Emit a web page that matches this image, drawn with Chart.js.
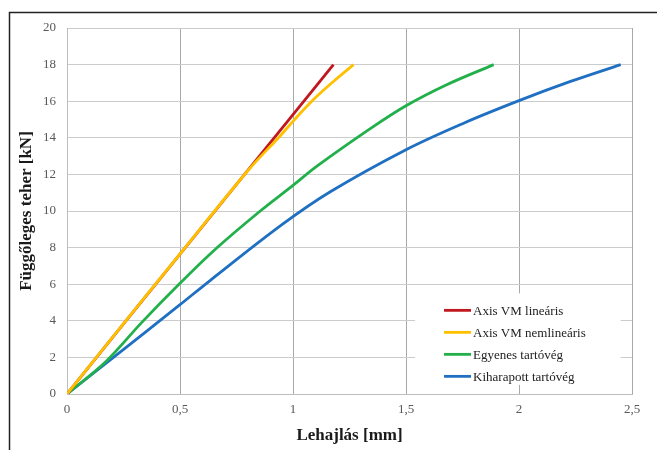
<!DOCTYPE html>
<html>
<head>
<meta charset="utf-8">
<script src="https://cdn.jsdelivr.net/npm/chart.js@4/dist/chart.umd.min.js"></script>
<style>
  html, body { margin: 0; padding: 0; background: #ffffff; }
  #wrap { position: relative; width: 657px; height: 450px; }
  canvas { display: block; }
</style>
</head>
<body>
<div id="wrap"><canvas id="c" width="657" height="450"></canvas></div>
<script>
// ---- data ----
const seriesNames = ["Axis VM lineáris", "Axis VM nemlineáris", "Egyenes tartóvég", "Kiharapott tartóvég"];
const seriesColors = ["#c0181e", "#ffc000", "#22b04b", "#1f6fc2"];

const linX = [0, 0.5, 1.0, 1.179];
const linY = [0, 7.65, 15.27, 18];

const nonlinX = [0, 0.26, 0.5, 0.8, 0.943, 1.0, 1.083, 1.179, 1.268];
const nonlinY = [0, 4.0, 7.65, 12.2, 14.1, 14.9, 16.0, 17.08, 18];

const egyX = [0, 0.17, 0.33, 0.5, 0.66, 0.855, 1.0, 1.106, 1.342, 1.5, 1.68, 1.888];
const egyY = [0, 1.75, 3.9, 6.05, 7.95, 10.0, 11.4, 12.45, 14.5, 15.75, 16.9, 18];

const kihX = [0, 0.2, 0.5, 0.633, 0.951, 1.165, 1.5, 1.755, 2.0, 2.228, 2.45];
const kihY = [0, 1.95, 4.88, 6.2, 9.25, 11.05, 13.35, 14.8, 16.03, 17.08, 18];

const xTickValues = [0, 0.5, 1, 1.5, 2, 2.5];
const xTickLabels = ["0", "0,5", "1", "1,5", "2", "2,5"];
const yTickValues = [0, 2, 4, 6, 8, 10, 12, 14, 16, 18, 20];

const xTitle = "Lehajlás [mm]";
const yTitle = "Függőleges teher [kN]";

function pts(xs, ys) { return xs.map((x, i) => ({ x: x, y: ys[i] })); }
const allX = [linX, nonlinX, egyX, kihX];
const allY = [linY, nonlinY, egyY, kihY];
// lower order is drawn on top: yellow over red over green over blue
const drawOrder = [1, 0, 2, 3];

const SERIF = "'Liberation Serif', 'Times New Roman', serif";

const datasets = seriesNames.map((name, i) => ({
  label: name,
  data: pts(allX[i], allY[i]),
  borderColor: seriesColors[i],
  backgroundColor: seriesColors[i],
  borderWidth: 2.8,
  pointRadius: 0,
  showLine: true,
  fill: false,
  tension: 0.35,
  order: drawOrder[i]
}));

const framePlugin = {
  id: 'frame',
  afterDraw(chart) {
    const ctx = chart.ctx;
    ctx.save();
    ctx.strokeStyle = '#222222';
    ctx.lineWidth = 1.5;
    ctx.beginPath();
    ctx.moveTo(9.5, 450);
    ctx.lineTo(9.5, 12.5);
    ctx.lineTo(657, 12.5);
    ctx.stroke();
    ctx.restore();
  }
};

const legendPlugin = {
  id: 'boxLegend',
  afterDatasetsDraw(chart) {
    const ctx = chart.ctx;
    const xs = chart.scales.x, ys = chart.scales.y;
    const bx = xs.getPixelForValue(1.54), by = ys.getPixelForValue(5.5);
    const bw = xs.getPixelForValue(2.45) - bx, bh = ys.getPixelForValue(0.5) - by;
    ctx.save();
    ctx.fillStyle = '#ffffff';
    ctx.fillRect(bx, by, bw, bh);
    ctx.font = "13px " + SERIF;
    ctx.textBaseline = 'middle';
    ctx.textAlign = 'left';
    chart.data.datasets.forEach((ds, i) => {
      const y = by + 17 + i * 22;
      ctx.strokeStyle = ds.borderColor;
      ctx.lineWidth = 2.8;
      ctx.beginPath();
      ctx.moveTo(bx + 29, y);
      ctx.lineTo(bx + 56, y);
      ctx.stroke();
      ctx.fillStyle = '#222222';
      ctx.fillText(ds.label, bx + 58, y + 1);
    });
    ctx.restore();
  }
};

new Chart(document.getElementById('c'), {
  type: 'scatter',
  data: { datasets: datasets },
  options: {
    responsive: false,
    animation: false,
    devicePixelRatio: 1,
    layout: { padding: { left: 0, right: 25, top: 28, bottom: 0 } },
    plugins: {
      legend: { display: false },
      tooltip: { enabled: false }
    },
    scales: {
      x: {
        type: 'linear',
        min: 0, max: 2.5,
        afterBuildTicks(scale) { scale.ticks = xTickValues.map(v => ({ value: v })); },
        afterFit(scale) { scale.height = 56; },
        ticks: {
          callback(v) { const i = xTickValues.indexOf(v); return i >= 0 ? xTickLabels[i] : ''; },
          color: '#595959',
          font: { family: SERIF, size: 13 },
          padding: 8,
          maxRotation: 0
        },
        grid: { color: '#a8a8a8', lineWidth: 1, drawTicks: false },
        border: { color: '#bdbdbd', width: 1 },
        title: {
          display: true, text: xTitle,
          color: '#1a1a1a',
          font: { family: SERIF, size: 17, weight: 'bold' },
          padding: { top: 0, bottom: 4 }
        }
      },
      y: {
        type: 'linear',
        min: 0, max: 20,
        afterBuildTicks(scale) { scale.ticks = yTickValues.map(v => ({ value: v })); },
        afterFit(scale) { scale.width = 67; },
        ticks: {
          color: '#595959',
          font: { family: SERIF, size: 13 },
          padding: 11
        },
        grid: { color: '#cccccc', lineWidth: 1, drawTicks: false },
        border: { color: '#bdbdbd', width: 1 },
        title: {
          display: true, text: yTitle,
          color: '#1a1a1a',
          font: { family: SERIF, size: 17, weight: 'bold' },
          padding: { top: 16, bottom: 0 }
        }
      }
    }
  },
  plugins: [legendPlugin, framePlugin]
});
</script>
</body>
</html>
